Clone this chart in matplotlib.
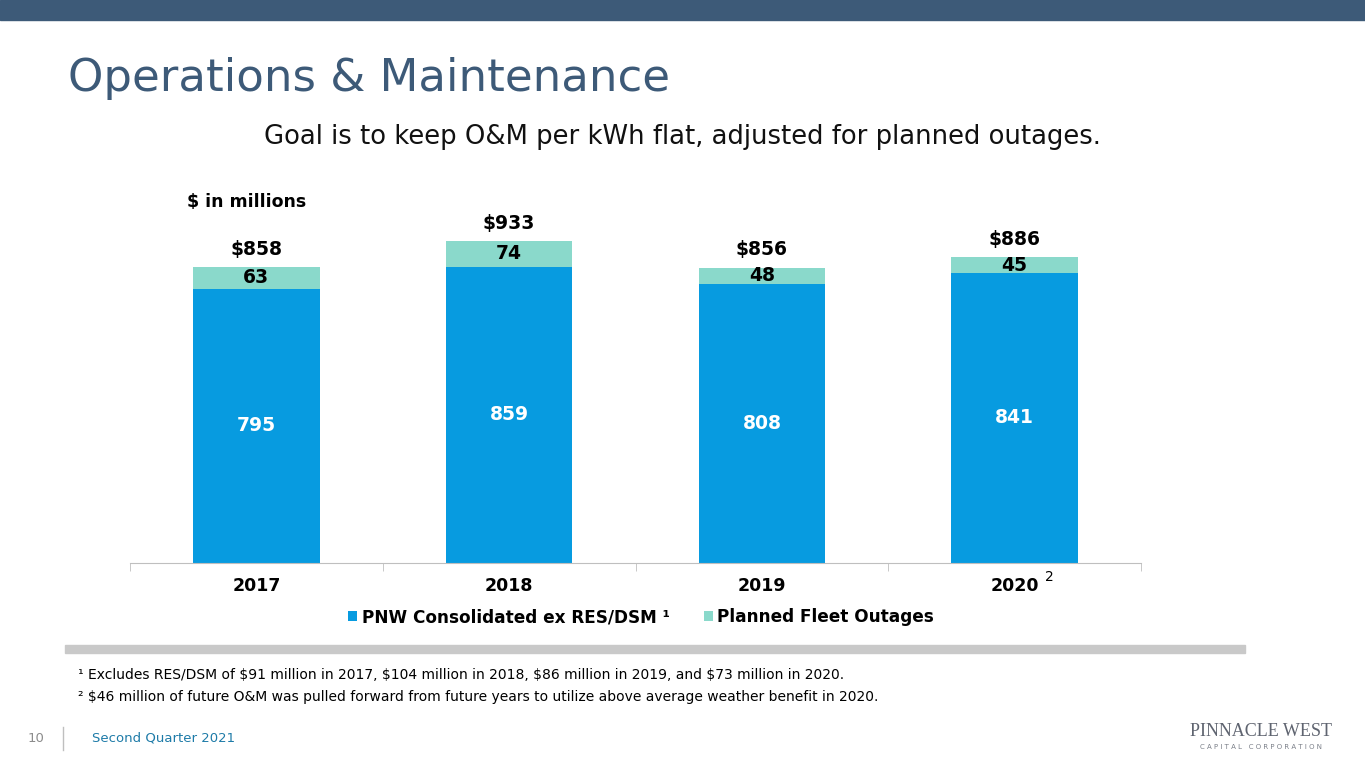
import numpy as np
import matplotlib.pyplot as plt
from matplotlib.patches import Rectangle
from matplotlib.lines import Line2D

# Chart data ($ in millions)
years = ['2017', '2018', '2019', '2020']
consolidated = [795, 859, 808, 841]
outages = [63, 74, 48, 45]
totals = ['\\$858', '\\$933', '\\$856', '\\$886']

footnotes = [
    '\u00b9 Excludes RES/DSM of \\$91 million in 2017, \\$104 million in 2018, \\$86 million in 2019, and \\$73 million in 2020.',
    '\u00b2 \\$46 million of future O&M was pulled forward from future years to utilize above average weather benefit in 2020.',
]

blue = '#079BE0'
teal = '#8AD9CB'
navy = '#3D5A78'

plt.rcParams['font.family'] = ['DejaVu Sans']

fig = plt.figure(figsize=(13.65, 7.68), dpi=100)

# slide decorations
fig.patches.append(Rectangle((0, 1 - 20 / 768), 1, 20 / 768, transform=fig.transFigure,
                             color=navy, zorder=0))
fig.patches.append(Rectangle((65 / 1365, 1 - 653 / 768), 1180 / 1365, 8 / 768,
                             transform=fig.transFigure, color='#C9C9C9', zorder=0))
fig.lines.append(Line2D([63 / 1365, 63 / 1365], [1 - 750 / 768, 1 - 727 / 768],
                        transform=fig.transFigure, color='#BFBFBF', lw=1))

fig.text(68 / 1365, 1 - 78 / 768, 'Operations & Maintenance', fontsize=32.4,
         color=navy, va='center', ha='left')
fig.text(682 / 1365, 1 - 137 / 768,
         'Goal is to keep O&M per kWh flat, adjusted for planned outages.',
         fontsize=18.6, color='#111111', va='center', ha='center')
fig.text(187 / 1365, 1 - 202 / 768, '$ in millions', fontsize=12.5,
         fontweight='bold', va='center', ha='left')

# bars
ax = fig.add_axes([130 / 1365, 205 / 768, 1011 / 1365, 345 / 768])
x = np.arange(len(years))
b1 = ax.bar(x, consolidated, width=0.5, color=blue, label='PNW Consolidated ex RES/DSM \u00b9')
b2 = ax.bar(x, outages, width=0.5, bottom=consolidated, color=teal,
            label='Planned Fleet Outages')

for i in range(len(years)):
    ax.text(x[i], consolidated[i] / 2, str(consolidated[i]), ha='center', va='center',
            color='white', fontsize=13.5, fontweight='bold')
    ax.text(x[i], consolidated[i] + outages[i] / 2, str(outages[i]), ha='center',
            va='center', color='black', fontsize=13.5, fontweight='bold')
    ax.annotate(totals[i], xy=(x[i], consolidated[i] + outages[i]), xytext=(0, 6),
                textcoords='offset points', ha='center', va='bottom',
                fontsize=13.5, fontweight='bold')

ax.set_xlim(-0.5, 3.5)
ax.set_ylim(0, 1000)
for s in ['top', 'right', 'left']:
    ax.spines[s].set_visible(False)
ax.spines['bottom'].set_color('#BFBFBF')
ax.set_yticks([])
ax.set_xticks(x)
ax.set_xticklabels(years, fontsize=12.5, fontweight='bold')
ax.tick_params(axis='x', which='major', length=0, pad=10)
ax.set_xticks(np.arange(-0.5, 4, 1), minor=True)
ax.tick_params(axis='x', which='minor', length=6, color='#BFBFBF')
ax.annotate('2', xy=(3, 0), xycoords=('data', 'axes fraction'), xytext=(22, -10),
            textcoords='offset points', fontsize=10, ha='left', va='center')

fig.legend(handles=[b1, b2], loc='center', bbox_to_anchor=(641 / 1365, 1 - 617 / 768),
           ncol=2, frameon=False, handlelength=0.55, handleheight=0.55,
           handletextpad=0.25, columnspacing=2.0,
           prop={'size': 12.2, 'weight': 'bold'})

# footnotes and footer
fig.text(78 / 1365, 1 - 675 / 768, footnotes[0], fontsize=10, va='center', ha='left')
fig.text(78 / 1365, 1 - 697 / 768, footnotes[1], fontsize=10, va='center', ha='left')
fig.text(28 / 1365, 1 - 738 / 768, '10', fontsize=9.5, color='#8C8C8C', va='center')
fig.text(92 / 1365, 1 - 738 / 768, 'Second Quarter 2021', fontsize=9.5, color='#1E7BA8',
         va='center')
fig.text(1261 / 1365, 1 - 731 / 768, 'PINNACLE WEST', fontsize=13, family='Liberation Serif',
         color='#5F6470', ha='center', va='center')
fig.text(1261 / 1365, 1 - 747 / 768, 'C A P I T A L   C O R P O R A T I O N', fontsize=5,
         color='#7A7F88', ha='center', va='center')

fig.savefig('out.png', dpi=100)
